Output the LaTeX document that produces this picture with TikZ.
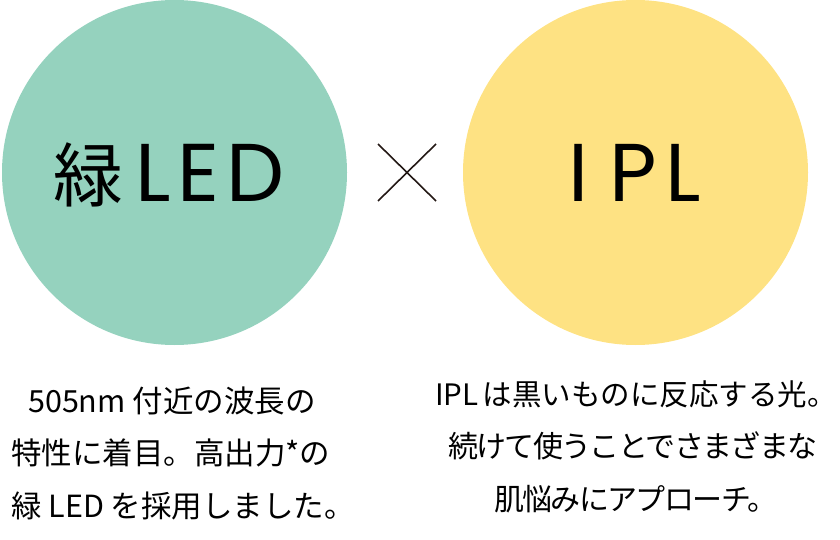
\documentclass[tikz,border=0pt]{standalone}
\usepackage{fontspec}
\newfontfamily\cjk{Noto Sans CJK JP}
\newfontfamily\cjktight[LetterSpace=-5.5]{Noto Sans CJK JP}
\newfontfamily\geo{Poppins}
\definecolor{ledgreen}{RGB}{149,210,190}
\definecolor{iplyellow}{RGB}{254,226,131}
\definecolor{ink}{RGB}{35,24,21}
\begin{document}
\begin{tikzpicture}[x=1pt,y=-1pt,
  disc/.style={circle,minimum size=345pt,inner sep=0pt},
  bigtext/.style={anchor=base,inner sep=0pt,text=black},
  lefttext/.style={anchor=base west,inner sep=0pt,text=black,font=\cjk\fontsize{30.5}{30.5}\selectfont},
  righttext/.style={anchor=base west,inner sep=0pt,text=black,font=\cjktight\fontsize{30}{30}\selectfont}]
\useasboundingbox (0,0) rectangle (840,540);
\node[disc,fill=ledgreen] (g) at (174.5,172.5) {};
\node[disc,fill=iplyellow] (y) at (635.5,172.5) {};
\node[bigtext] (gl) at (169,201) {{\cjk\fontsize{70}{70}\selectfont 緑}\kern12pt{\geo\fontsize{82}{82}\selectfont L\kern6pt E\kern7pt D}};
\node[bigtext] (yl) at (635,201) {\geo\fontsize{82}{82}\selectfont I\kern20pt P\kern9pt L};
\coordinate (c1) at (378,144);
\coordinate (c2) at (436,201);
\coordinate (c3) at (378,201);
\coordinate (c4) at (436,144);
\draw[ink,line width=1.6pt] (c1) -- (c2) (c3) -- (c4);
\node[lefttext] (l1) at (28,412) {505nm 付近の波長の};
\node[lefttext] (l2) at (11,464.5) {特性に着目。高出力*の};
\node[lefttext] (l3) at (11,517) {緑 LED を採用しました。};
\node[righttext,font=\cjk\fontsize{29.5}{29.5}\selectfont] (r1) at (435,405) {IPL\kern4pt は黒いものに反応する光。};
\node[righttext] (r2) at (448,457.5) {続けて使うことでさまざまな};
\node[righttext] (r3) at (494,510) {肌悩みにアプローチ。};
\end{tikzpicture}
\end{document}
